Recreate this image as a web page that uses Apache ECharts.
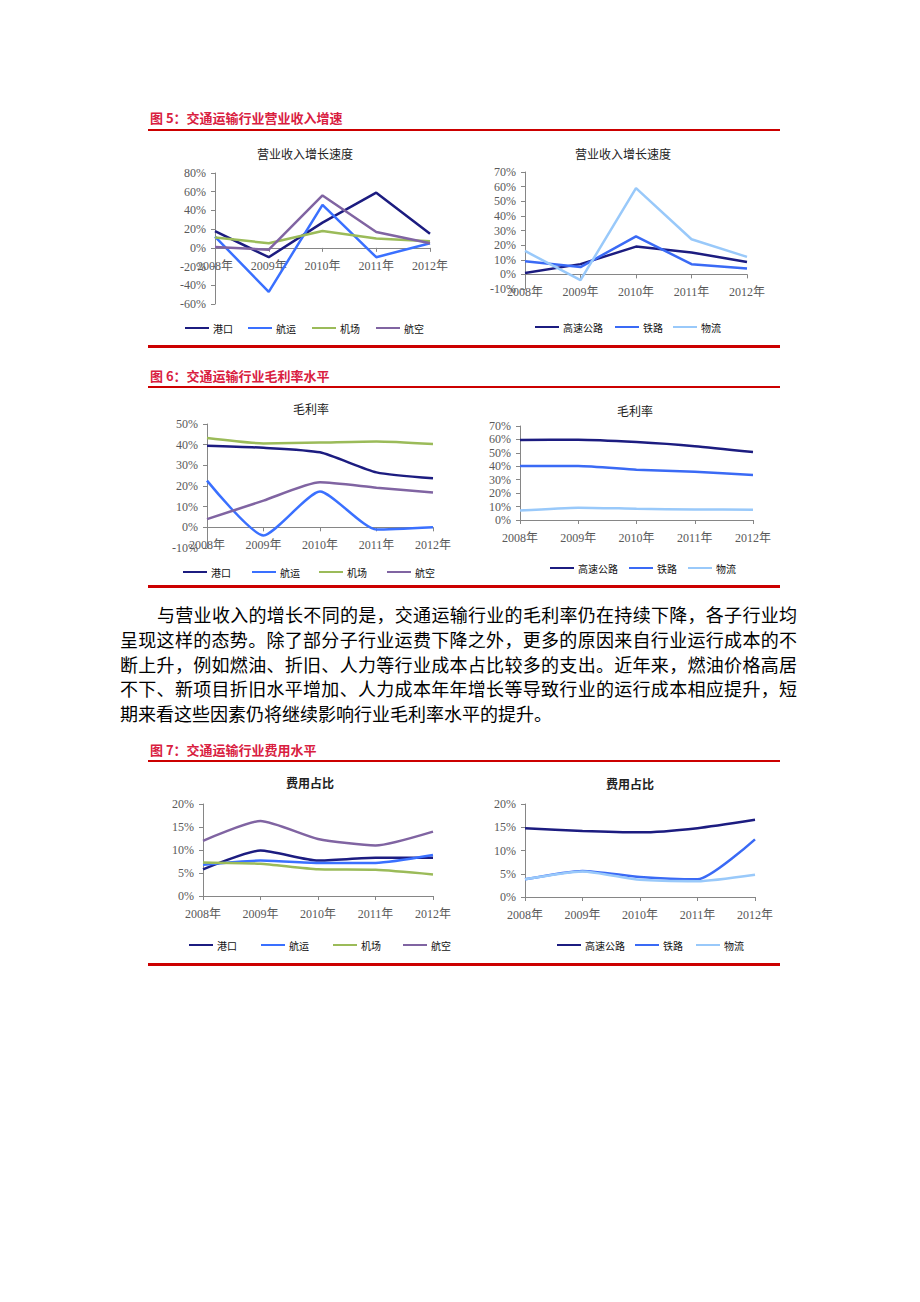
<!DOCTYPE html>
<html>
<head>
<meta charset="utf-8">
<script src="https://cdn.jsdelivr.net/npm/echarts@6/dist/echarts.min.js"></script>
<style>
  html, body { margin:0; padding:0; background:#fff; }
  body { width:920px; height:1302px; position:relative; overflow:hidden; font-family:"Noto Sans CJK SC","Noto Sans",sans-serif; }
  #chart { position:absolute; left:0; top:0; width:920px; height:1302px; }
  .cap { position:absolute; left:150px; font-size:13px; font-weight:bold; color:#d9203f; line-height:16px; white-space:nowrap; }
  .rule { position:absolute; left:148px; width:632px; background:#cc0000; }
  .para { position:absolute; left:120px; top:602px; width:677px; font-size:18px; line-height:24.75px; color:#000; }
  .para div { text-align:justify; text-align-last:justify; white-space:nowrap; }
  .para div.first { padding-left:37px; }
  .para div.last { text-align-last:left; }
</style>
</head>
<body>
<div id="chart"></div>
<div class="cap" style="top:110px">图 5：交通运输行业营业收入增速</div>
<div class="rule" style="top:129px;height:2px"></div>
<div class="rule" style="top:345px;height:3px"></div>
<div class="cap" style="top:368px">图 6：交通运输行业毛利率水平</div>
<div class="rule" style="top:386px;height:2px"></div>
<div class="rule" style="top:585px;height:3px"></div>
<div class="cap" style="top:742px">图 7：交通运输行业费用水平</div>
<div class="rule" style="top:760px;height:2px"></div>
<div class="rule" style="top:963px;height:3px"></div>
<div class="para">
  <div class="first">与营业收入的增长不同的是，交通运输行业的毛利率仍在持续下降，各子行业均</div>
  <div>呈现这样的态势。除了部分子行业运费下降之外，更多的原因来自行业运行成本的不</div>
  <div>断上升，例如燃油、折旧、人力等行业成本占比较多的支出。近年来，燃油价格高居</div>
  <div>不下、新项目折旧水平增加、人力成本年年增长等导致行业的运行成本相应提升，短</div>
  <div class="last">期来看这些因素仍将继续影响行业毛利率水平的提升。</div>
</div>
<script>
// ---------- data ----------
const years = ['2008年','2009年','2010年','2011年','2012年'];

const namesA = ['港口','航运','机场','航空'];
const namesB = ['高速公路','铁路','物流'];

// 图5 营业收入增长速度 (%)
const revPort      = [18, -10, 27, 59, 15];
const revShipping  = [12, -47, 46, -10, 5];
const revAirport   = [11, 5, 18, 10, 7];
const revAirline   = [1, -2, 56, 17, 5];
const revHighway   = [1, 7, 19, 15, 8.5];
const revRail      = [9, 5, 26, 7, 4];
const revLogistics = [16, -4, 59, 24, 12];

// 图6 毛利率 (%)
const gmPort       = [39.5, 38.5, 36.3, 26.6, 23.7];
const gmShipping   = [22.6, -3.9, 17.3, -1.1, 0];
const gmAirport    = [43.2, 40.6, 41, 41.5, 40.3];
const gmAirline    = [4, 12.9, 21.8, 19.2, 16.9];
const gmHighway    = [59.6, 59.8, 58, 55, 50.6];
const gmRail       = [40.2, 40.2, 37.5, 36, 33.5];
const gmLogistics  = [7, 9.2, 8.4, 7.8, 7.7];

// 图7 费用占比 (%)
const exPort       = [5.8, 9.9, 7.7, 8.3, 8.3];
const exShipping   = [6.8, 7.7, 7.2, 7.2, 8.9];
const exAirport    = [7.3, 7, 5.8, 5.7, 4.7];
const exAirline    = [12, 16.3, 12.4, 11, 14];
const exHighway    = [14.8, 14.2, 13.9, 14.8, 16.6];
const exRail       = [3.8, 5.6, 4.3, 3.8, 12.4];
const exLogistics  = [3.8, 5.5, 3.7, 3.4, 4.8];

const titles = ['营业收入增长速度','营业收入增长速度','毛利率','毛利率','费用占比','费用占比'];
const yTicks = [
  {min:-60, max:80, interval:20},
  {min:-10, max:70, interval:10},
  {min:-10, max:50, interval:10},
  {min:0,   max:70, interval:10},
  {min:0,   max:20, interval:5},
  {min:0,   max:20, interval:5}
];

// ---------- styling / layout ----------
const colorMap = {
  '港口':'#1c1c80', '航运':'#3a70ff', '机场':'#9bbb59', '航空':'#8064a2',
  '高速公路':'#1c1c80', '铁路':'#3a6af5', '物流':'#99c9fa'
};
const grids = [
  {left:215, top:173, width:215, height:131},
  {left:525, top:172, width:222, height:117},
  {left:207, top:424, width:226, height:124},
  {left:520, top:426, width:233, height:94},
  {left:203, top:804, width:230, height:92},
  {left:525, top:804, width:230, height:93}
];
const titlePos = [[305,153,'normal'],[623,153,'normal'],[311,408,'normal'],[635,410,'normal'],[310,782,'bold'],[630,783,'bold']];
const legendPos = [
  {y:330, xs:[185,248,312,376]},
  {y:329, xs:[535,615,673]},
  {y:574, xs:[183,252,319,387]},
  {y:570, xs:[550,629,688]},
  {y:947, xs:[189,261,333,403]},
  {y:947, xs:[557,635,696]}
];
const chartData = [
  {names:namesA, vals:[revPort, revShipping, revAirport, revAirline], smooth:false},
  {names:namesB, vals:[revHighway, revRail, revLogistics], smooth:false},
  {names:namesA, vals:[gmPort, gmShipping, gmAirport, gmAirline], smooth:0.2},
  {names:namesB, vals:[gmHighway, gmRail, gmLogistics], smooth:0.2},
  {names:namesA, vals:[exPort, exShipping, exAirport, exAirline], smooth:0.2},
  {names:namesB, vals:[exHighway, exRail, exLogistics], smooth:0.2}
];

const axisColor = '#868686';
const labelStyle = {fontFamily:'"Liberation Serif","Noto Sans CJK SC",serif', fontSize:12, color:'#595959'};

// x axis sits at the 0% line: shift it up from the grid bottom by the scale distance of 0
function zeroOffset(i) {
  const t = yTicks[i];
  if (t.min >= 0) return 0;
  return -grids[i].height * (0 - t.min) / (t.max - t.min);
}

const option = {
  animation:false,
  backgroundColor:'transparent',
  grid: grids.map(g => Object.assign({containLabel:false}, g)),
  xAxis: grids.map((g,i) => ({
    type:'category', gridIndex:i, data:years, boundaryGap:false,
    position:'bottom', offset:zeroOffset(i),
    axisLine:{show:true, onZero:false, lineStyle:{color:axisColor, width:1}},
    axisTick:{show:true, length:4, lineStyle:{color:axisColor}},
    axisLabel:Object.assign({interval:0, margin:12}, labelStyle),
    splitLine:{show:false}
  })),
  yAxis: grids.map((g,i) => ({
    type:'value', gridIndex:i, min:yTicks[i].min, max:yTicks[i].max, interval:yTicks[i].interval,
    axisLine:{show:true, lineStyle:{color:axisColor, width:1}},
    axisTick:{show:true, length:4, lineStyle:{color:axisColor}},
    axisLabel:Object.assign({formatter:'{value}%', margin:9}, labelStyle),
    splitLine:{show:false}
  })),
  legend: [],
  series: [],
  graphic: titlePos.map((p,i) => ({
    type:'text', x:p[0], y:p[1],
    style:{text:titles[i], fontSize:12, fontWeight:p[2], fill:'#222',
      fontFamily:'"Noto Sans CJK SC",sans-serif', textAlign:'center', textVerticalAlign:'middle'}
  }))
};

chartData.forEach((c,i) => {
  c.names.forEach((n,k) => {
    option.series.push({
      type:'line', name:n, xAxisIndex:i, yAxisIndex:i, data:c.vals[k],
      symbol:'none', smooth:c.smooth,
      lineStyle:{width:2.5, color:colorMap[n]}, itemStyle:{color:colorMap[n]}
    });
    option.legend.push({
      left:legendPos[i].xs[k], top:legendPos[i].y - 7, padding:0, itemGap:0,
      icon:'rect', itemWidth:24, itemHeight:2,
      data:[n], selectedMode:false,
      textStyle:{fontSize:10, color:'#111', fontFamily:'"Noto Sans CJK SC",sans-serif', padding:[0,0,0,-1]}
    });
  });
});

const chart = echarts.init(document.getElementById('chart'), null, {renderer:'svg', width:920, height:1302});
chart.setOption(option);
</script>
</body>
</html>
